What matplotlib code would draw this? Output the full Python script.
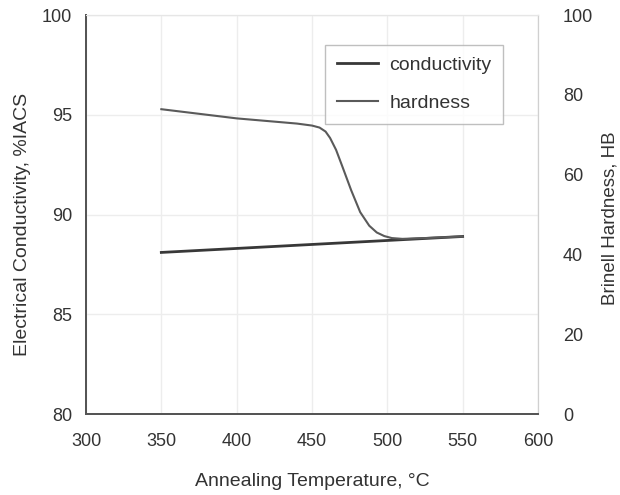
import matplotlib.pyplot as plt

plt.rcParams['font.family'] = ['Liberation Sans', 'DejaVu Sans']

# data
cond_temp = [350, 550]
conductivity = [88.1, 88.9]

hard_temp = [350, 400, 440, 450, 455, 459, 462, 466, 470, 476, 482, 488, 493, 498, 503, 510, 525, 550]
hardness = [76.4, 74.1, 72.8, 72.3, 71.8, 70.8, 69.2, 66.2, 62.2, 56.1, 50.6, 47.2, 45.5, 44.6, 44.1, 43.9, 44.1, 44.5]

x_ticks = [300, 350, 400, 450, 500, 550, 600]
left_ticks = [80, 85, 90, 95, 100]
right_ticks = [0, 20, 40, 60, 80, 100]

fig = plt.figure(figsize=(6.2, 4.95), dpi=100)
ax = fig.add_axes([0.1387, 0.1636, 0.729, 0.806])
ax2 = ax.twinx()

ax.plot(cond_temp, conductivity, color='#383838', lw=2.0, label='conductivity')
ax2.plot(hard_temp, hardness, color='#5a5a5a', lw=1.5, label='hardness')

ax.set_xlim(300, 600)
ax.set_ylim(80, 100)
ax2.set_ylim(0, 100)
ax.set_xticks(x_ticks)
ax.set_yticks(left_ticks)
ax2.set_yticks(right_ticks)

ax.grid(True, color='#ededed', lw=1)
ax.set_axisbelow(True)

for a in (ax, ax2):
    a.tick_params(length=0, labelsize=13, colors='#333333', pad=10)
    a.spines['top'].set_color('#e6e6e6')
    a.spines['right'].set_color('#d0d0d0')
    a.spines['left'].set_color('#555555')
    a.spines['bottom'].set_color('#555555')
    a.spines['left'].set_linewidth(1.4)
    a.spines['bottom'].set_linewidth(1.4)
ax.tick_params(axis='x', pad=14)
ax2.tick_params(axis='y', pad=18)

ax.set_xlabel('Annealing Temperature, °C', fontsize=14, color='#333333', labelpad=16)
ax.set_ylabel('Electrical Conductivity, %IACS', fontsize=14, color='#333333', labelpad=8)
ax2.set_ylabel('Brinell Hardness, HB', fontsize=13.5, color='#333333', labelpad=6)
ax.yaxis.label.set_y(0.474)
ax2.yaxis.label.set_y(0.49)

h1, l1 = ax.get_legend_handles_labels()
h2, l2 = ax2.get_legend_handles_labels()
leg = ax2.legend(h1 + h2, l1 + l2, loc='upper left', bbox_to_anchor=(0.529, 0.925),
                 fontsize=14, frameon=True, fancybox=False, edgecolor='#b0b0b0',
                 labelspacing=1.05, handlelength=2.1, handletextpad=0.6,
                 borderpad=0.6, borderaxespad=0)
leg.get_frame().set_linewidth(1.0)
for t in leg.get_texts():
    t.set_color('#333333')

fig.savefig('out.png', dpi=100)
